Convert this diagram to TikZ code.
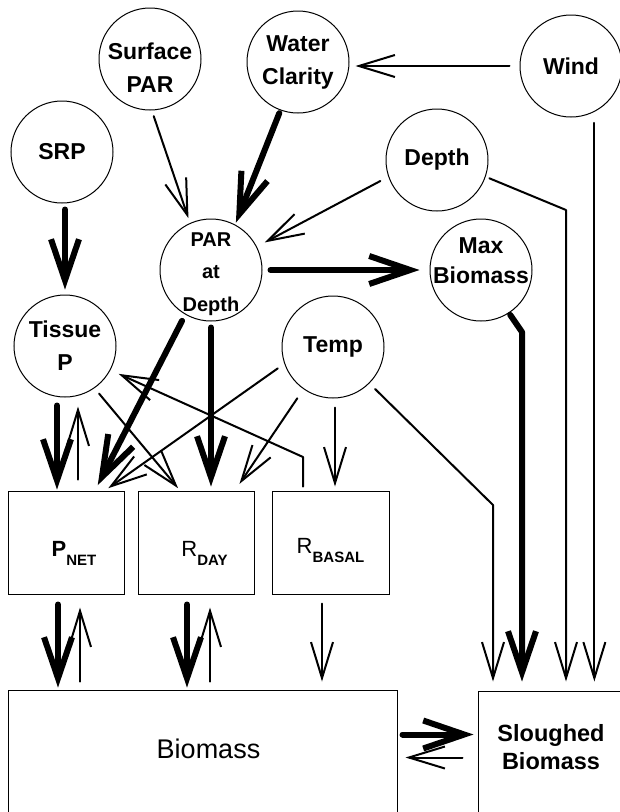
\documentclass[tikz,border=0pt]{standalone}
\usepackage{fontspec}
\setmainfont{Liberation Sans}
\usetikzlibrary{arrows.meta}
\newcommand\lowstack[2]{\raisebox{#1}[0pt][0pt]{\begin{tabular}[b]{@{}c@{}}#2\end{tabular}}}
\begin{document}
\begin{tikzpicture}[x=1pt,y=-1pt,
  circ/.style={circle,draw,line width=1pt,minimum size=102pt,inner sep=0pt,align=center,
    font=\fontsize{23}{33}\selectfont\bfseries},
  boxn/.style={rectangle,draw,line width=1pt,inner sep=0pt},
  thinarrow/.style={line width=2pt,line cap=round,line join=round,
    -{Straight Barb[length=36pt,width=22pt]}},
  thickarrow/.style={line width=6pt,line cap=round,line join=round,
    -{Straight Barb[length=41pt,width=28pt]}},
]
\useasboundingbox (0,0) rectangle (620,812);
\clip (0,0) rectangle (620,812);

% circles
\node[circ] (surf) at (150,59) {\lowstack{-33pt}{Surface\\PAR}};
\node[circ] (water) at (298,62) {Water\\Clarity};
\node[circ] (wind) at (571,66) {Wind};
\node[circ] (srp) at (62,152) {SRP};
\node[circ] (depth) at (437,160) {Depth};
\node[circ,font=\fontsize{20}{32.5}\selectfont\bfseries] (pard) at (211,270) {\lowstack{-41pt}{PAR\\at\\Depth}};
\node[circ,font=\fontsize{23}{30}\selectfont\bfseries] (maxb) at (481,270) {\lowstack{-13pt}{Max\\Biomass}};
\node[circ] (tissue) at (65,346) {Tissue\\P};
\node[circ] (temp) at (333,347) {Temp};

% boxes
\node[boxn,minimum width=116pt,minimum height=103pt,text height=28pt,text depth=0pt] (pnet) at (66,542.5)
  {\kern16pt{\fontsize{22}{22}\selectfont\bfseries P}\raisebox{-9pt}{\fontsize{15}{15}\selectfont\bfseries NET}};
\node[boxn,minimum width=116pt,minimum height=103pt,text height=28pt,text depth=0pt] (rday) at (196,542.5)
  {\kern17pt{\fontsize{22}{22}\selectfont R}\raisebox{-9pt}{\fontsize{15}{15}\selectfont\bfseries DAY}};
\node[boxn,minimum width=117pt,minimum height=103pt,text height=21pt,text depth=0pt] (rbasal) at (330.5,542.5)
  {{\fontsize{22}{22}\selectfont R}\raisebox{-9pt}{\fontsize{15}{15}\selectfont\bfseries BASAL}};
\node[boxn,minimum width=389pt,text height=68pt,text depth=100pt,font=\fontsize{27}{27}\selectfont] (biomass) at (202.5,774)
  {\kern12pt Biomass};
\node[boxn,minimum width=146pt,text height=78pt,text depth=100pt,align=center,
  font=\fontsize{23.5}{28}\selectfont\bfseries] (slough) at (551,780) {Sloughed\\Biomass};

% bend points
\coordinate (dk) at (566,210);
\coordinate (mk) at (522,332);
\coordinate (tk) at (493,505);
\coordinate (rk) at (303,457);

% top connectors
\draw[thinarrow,shorten <=10pt,shorten >=6pt] (wind.west) -- (water.east |- wind.west);
\draw[thinarrow,shorten <=6pt,shorten >=5pt] (surf.272) -- (pard.114);
\draw[thickarrow,shorten <=3pt,shorten >=2pt] (water.250) -- (pard.62);
\draw[thinarrow,shorten <=9pt,shorten >=9pt] (depth.199) -- (pard.27);
\draw[thickarrow,shorten <=8pt,shorten >=10pt] (pard.east) -- (maxb.west);
\draw[thickarrow,shorten <=6pt,shorten >=5pt] (tissue.north |- srp.south) -- (tissue.north);

% to sloughed biomass
\draw[thinarrow,shorten <=4pt,shorten >=9pt] (depth.341) -- (dk) -- (dk |- slough.north);
\draw[thinarrow,shorten <=11pt,shorten >=9pt] (wind.297) -- (wind.297 |- slough.north);
\draw[thickarrow,shorten <=2pt,shorten >=9pt] (maxb.303) -- (mk) -- (mk |- slough.north);
\draw[thinarrow,shorten <=8pt,shorten >=9pt] (temp.315) -- (tk) -- (tk |- slough.north);

% middle connectors
\draw[thickarrow,shorten <=8pt,shorten >=1pt] ([xshift=-8pt]tissue.south) -- ([xshift=-8pt]tissue.south |- pnet.north);
\draw[thinarrow,shorten <=11pt,shorten >=9pt] ([xshift=12pt]pnet.north) -- ([xshift=12pt]pnet.north |- tissue.south);
\draw[thickarrow,shorten <=7pt,shorten >=6pt] (pard.240) -- ([xshift=29pt]pnet.north);
\draw[thickarrow,shorten <=6pt,shorten >=4pt] (pard.south) -- (pard.south |- rday.north);
\draw[thinarrow,shorten <=7pt,shorten >=3pt] (tissue.305) -- ([xshift=-16pt]rday.north);
\draw[thinarrow,shorten <=8pt,shorten >=4pt] (temp.199) -- ([xshift=39pt]pnet.north);
\draw[thinarrow,shorten <=11pt,shorten >=8pt] (temp.235) -- ([xshift=39pt]rday.north);
\draw[thinarrow,shorten <=4pt,shorten >=9pt] (rbasal.north -| rk) -- (rk) -- (tissue.332);
\draw[thinarrow,shorten <=9pt,shorten >=4pt] ([xshift=2pt]temp.south) -- ([xshift=2pt]temp.south |- rbasal.north);

% bottom connectors
\draw[thickarrow,shorten <=10pt,shorten >=2pt] ([xshift=-8pt]pnet.south) -- ([xshift=-8pt]pnet.south |- biomass.north);
\draw[thinarrow,shorten <=8pt,shorten >=13pt] ([xshift=14pt]pnet.south |- biomass.north) -- ([xshift=14pt]pnet.south);
\draw[thickarrow,shorten <=10pt,shorten >=2pt] ([xshift=-9pt]rday.south) -- ([xshift=-9pt]rday.south |- biomass.north);
\draw[thinarrow,shorten <=8pt,shorten >=13pt] ([xshift=14pt]rday.south |- biomass.north) -- ([xshift=14pt]rday.south);
\draw[thinarrow,shorten <=9pt,shorten >=8pt] ([xshift=-8.5pt]rbasal.south) -- ([xshift=-8.5pt]rbasal.south |- biomass.north);
\draw[thickarrow,shorten <=5pt,shorten >=4pt] ([yshift=-45pt]biomass.north east) -- ([yshift=-45pt]biomass.north east -| slough.west);
\draw[thinarrow,shorten <=15pt,shorten >=8pt] ([yshift=-68pt]biomass.north east -| slough.west) -- ([yshift=-68pt]biomass.north east);
\end{tikzpicture}
\end{document}
